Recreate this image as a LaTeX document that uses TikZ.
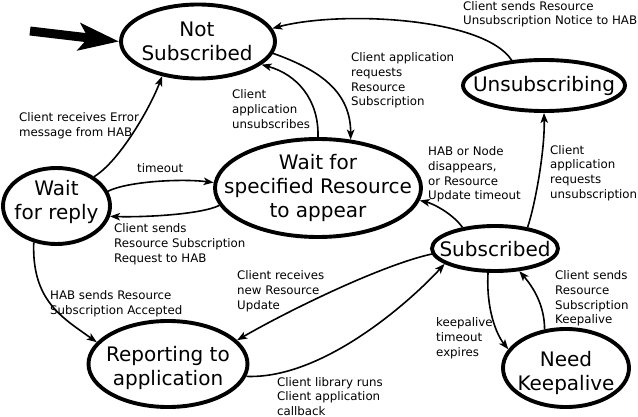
\documentclass[tikz,border=0pt]{standalone}
\usepackage{fontspec}
\setmainfont{DejaVu Sans}
\usetikzlibrary{shapes.geometric,arrows.meta}
\tikzset{
  state/.style={ellipse,draw,line width=3.9pt,inner sep=0pt},
  statetext/.style={align=center,inner sep=0pt,font=\fontsize{20}{24}\selectfont},
  conn/.style={line width=1.6pt,-{Stealth[length=10pt,width=7.5pt,inset=2.5pt]}},
  lbl/.style={anchor=north west,inner sep=0pt,align=left,
    font=\fontsize{11.8}{14.7}\selectfont},
}
\begin{document}
\begin{tikzpicture}[x=1pt,y=1pt]
\useasboundingbox (0,0) rectangle (638,-417);
% states (ellipse outlines)
\node[state,minimum width=154pt,minimum height=74pt] (NS) at (198,-41.5) {};
\node[state,minimum width=162pt,minimum height=51pt] (U) at (544,-85.5) {};
\node[state,minimum width=206pt,minimum height=98pt] (WS) at (318,-188) {};
\node[state,minimum width=107pt,minimum height=76pt] (WR) at (56.5,-206) {};
\node[state,minimum width=126pt,minimum height=45pt] (S) at (495,-248.5) {};
\node[state,minimum width=159pt,minimum height=86pt] (R) at (168,-364) {};
\node[state,minimum width=126pt,minimum height=78pt] (NK) at (566,-368) {};
% state texts
\node[statetext] (NSt) at (197,-41.5) {Not\\Subscribed};
\node[statetext] (Ut) at (544,-85.5) {Unsubscribing};
\node[statetext] (WSt) at (318,-188) {Wait for\\specified Resource\\to appear};
\node[statetext] (WRt) at (56.5,-202) {Wait\\for reply};
\node[statetext] (St) at (495,-249) {Subscribed};
\node[statetext] (Rt) at (168,-368) {Reporting to\\application};
\node[statetext] (NKt) at (566,-373) {Need\\Keepalive};

\coordinate (start) at (30,-31);
\draw[line width=9pt,-{Stealth[length=40pt,width=27pt,inset=9pt]}] (start) -- (NS.west);

\draw[conn] (U.142) .. controls +(-28,43) and +(68,18) .. (NS.10);
\draw[conn] (NS.-9) .. controls +(48,-17) and +(0,47) .. (WS.56);
\draw[conn] (WS.north) .. controls +(1,37) and +(36,-10) .. (NS.-20);
\draw[conn] (WR.38) .. controls +(25,15) and +(-12,-32) .. (NS.-136);
\draw[conn] (WR.16) .. controls +(20,10) and +(-32,4) .. (WS.177);
\draw[conn] (WS.-170) .. controls +(-18,-9) and +(35,-1) .. (WR.-11);
\draw[conn] (WR.-122) .. controls +(-2,-58) and +(-35,25) .. (R.163);
\draw[conn] (S.-175) .. controls +(-50,-11) and +(52,30) .. (R.19);
\draw[conn] (R.-9) .. controls +(78,-3) and +(-32,-35) .. (S.-163);
\draw[conn] (S.147) .. controls +(-10,14) and +(13,-3) .. (WS.-7);
\draw[conn] (S.33.5) .. controls +(8,24) and +(1,-36) .. (U.south);
\draw[conn] (S.-106) .. controls +(-2,-36) and +(-12,15) .. (NK.162);
\draw[conn] (NK.119) .. controls +(0,25) and +(13,-15) .. (S.-43);

\node[lbl] (l1) at (463,-1) {Client sends Resource\\Unsubscription Notice to HAB};
\node[lbl] (l2) at (351,-52.5) {Client application\\requests\\Resource\\Subscription};
\node[lbl] (l3) at (232,-89.5) {Client\\application\\unsubscribes};
\node[lbl] (l4) at (19,-112.5) {Client receives Error\\message from HAB};
\node[lbl] (l5) at (137,-163.5) {timeout};
\node[lbl] (l6) at (114,-223.5) {Client sends\\Resource Subscription\\Request to HAB};
\node[lbl] (l7) at (50,-290.5) {HAB sends Resource\\Subscription Accepted};
\node[lbl] (l8) at (237,-270.5) {Client receives\\new Resource\\Update};
\node[lbl] (l9) at (277,-377) {Client library runs\\Client application\\callback};
\node[lbl] (l10) at (428,-146.5) {HAB or Node\\disappears,\\or Resource\\Update timeout};
\node[lbl] (l11) at (550,-145) {Client\\application\\requests\\unsubscription};
\node[lbl] (l12) at (436,-317.5) {keepalive\\timeout\\expires};
\node[lbl] (l13) at (555,-270.5) {Client sends\\Resource\\Subscription\\Keepalive};
\end{tikzpicture}
\end{document}
